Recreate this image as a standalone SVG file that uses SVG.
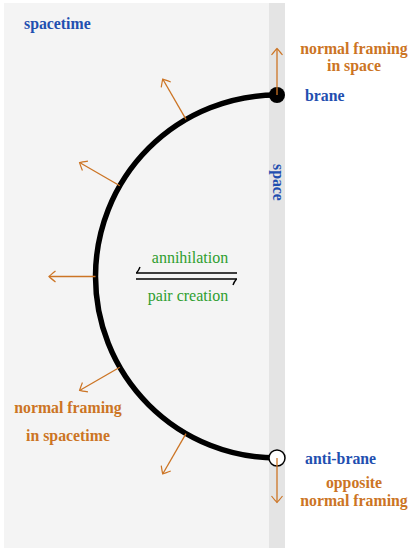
<svg xmlns="http://www.w3.org/2000/svg" width="412" height="548" viewBox="0 0 412 548">
  <style>
    .lbl { font-family: "Liberation Serif", "Times New Roman", serif; font-weight: bold; font-size: 15.8px; }
    .blue { fill: #1f4fb0; }
    .orange { fill: #cc7424; }
    .green { font-family: "Liberation Serif", "Times New Roman", serif; font-size: 16px; fill: #2e9e2e; }
    .normal { stroke: #cc7424; stroke-width: 1.3; fill: none; marker-end: url(#tip); }
    .harp { stroke: #000; stroke-width: 1.4; fill: none; }
  </style>
  <defs>
    <marker id="tip" viewBox="-7 -7 9 14" markerWidth="9" markerHeight="14" refX="0" refY="0" orient="auto" markerUnits="userSpaceOnUse">
      <path d="M -6 -5.5 Q -1 -1.5 0.5 0 Q -1 1.5 -6 5.5" stroke="#cc7424" stroke-width="1.2" fill="none"/>
    </marker>
  </defs>

  <!-- spacetime region and the space slice -->
  <g id="spacetime-region">
    <rect x="4" y="3" width="265" height="545" fill="#f4f4f4"/>
    <text class="lbl blue" x="24" y="29">spacetime</text>
  </g>
  <g id="space-slice">
    <rect x="269" y="3" width="16" height="545" fill="#e4e4e4"/>
    <text class="lbl blue" transform="translate(273,164) rotate(90)">space</text>
  </g>

  <!-- worldsheet arc joining brane and anti-brane -->
  <g id="worldvolume">
    <path d="M 277 95 A 181.5 181.5 0 0 0 277 458" stroke="#000" stroke-width="5.5" fill="none"/>
  </g>

  <g id="brane">
    <circle cx="277" cy="95" r="8" fill="#000"/>
    <text class="lbl blue" x="305" y="101">brane</text>
  </g>
  <g id="anti-brane">
    <circle cx="277" cy="458" r="8" fill="#fff" stroke="#000" stroke-width="1.5"/>
    <text class="lbl blue" x="305" y="464">anti-brane</text>
  </g>

  <!-- normal vectors -->
  <g id="connectors">
    <line class="normal" x1="186" y1="119.3" x2="163" y2="79.5"/>
    <line class="normal" x1="119.8" y1="185.8" x2="80" y2="162.8"/>
    <line class="normal" x1="95.5" y1="276.5" x2="49.5" y2="276.5"/>
    <line class="normal" x1="119.8" y1="367.2" x2="80" y2="390.2"/>
    <line class="normal" x1="186" y1="433.7" x2="163" y2="473.5"/>
    <line class="normal" x1="277" y1="95" x2="277" y2="49"/>
    <line class="normal" x1="277" y1="458" x2="277" y2="502"/>
    <!-- harpoons between the two processes -->
    <path class="harp" d="M 136 273 L 237 273"/>
    <path class="harp" d="M 136.5 273 Q 139 270 140 267"/>
    <path class="harp" d="M 136 279 L 237 279"/>
    <path class="harp" d="M 236.5 279 Q 234 282 233 285"/>
  </g>

  <g id="framing-labels">
    <text class="lbl orange" x="354" y="54" text-anchor="middle">normal framing</text>
    <text class="lbl orange" x="354" y="71" text-anchor="middle">in space</text>
    <text class="lbl orange" x="68" y="413" text-anchor="middle">normal framing</text>
    <text class="lbl orange" x="68" y="441" text-anchor="middle">in spacetime</text>
    <text class="lbl orange" x="354" y="488" text-anchor="middle">opposite</text>
    <text class="lbl orange" x="354" y="506" text-anchor="middle">normal framing</text>
  </g>

  <g id="process-labels">
    <text class="green" x="190" y="263" text-anchor="middle">annihilation</text>
    <text class="green" x="188" y="301" text-anchor="middle">pair creation</text>
  </g>
</svg>
